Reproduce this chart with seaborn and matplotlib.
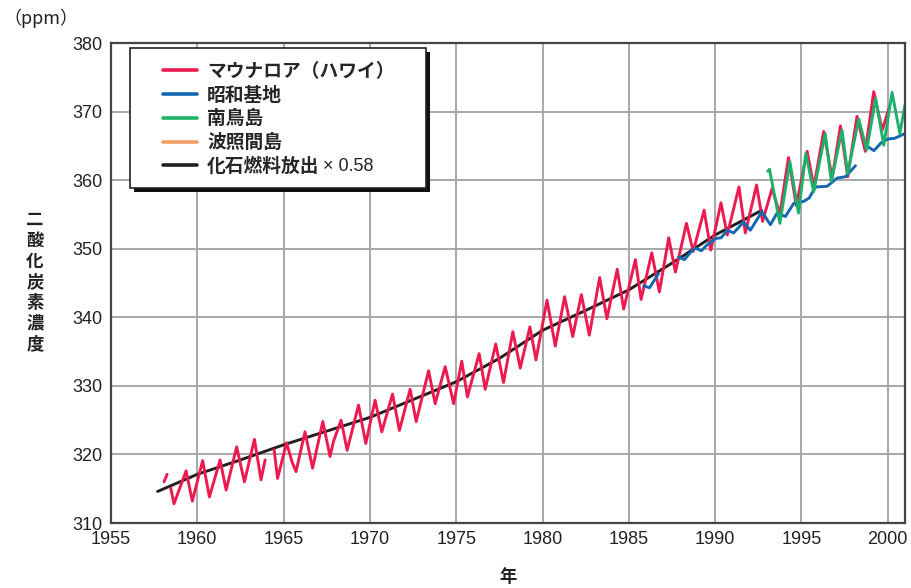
import numpy as np
import pandas as pd
import matplotlib
matplotlib.use("Agg")
import matplotlib.pyplot as plt
from matplotlib.lines import Line2D
from matplotlib.patches import Rectangle
import seaborn as sns

# ---------------- data ----------------
# Mauna Loa (segments separated by None)
ml_year = [1958.07, 1958.25, None,
           1958.46, 1958.65, 1959.35, 1959.71, 1960.31, 1960.70, 1961.32, 1961.67,
           1962.28, 1962.73, 1963.31, 1963.69, 1963.93, None,
           1964.45, 1964.65, 1965.17, 1965.49, 1965.72, 1966.24, 1966.68, 1967.27,
           1967.69, 1967.89, 1968.33, 1968.68, 1969.34, 1969.76, 1970.30, 1970.69,
           1971.31, 1971.71, 1972.33, 1972.68, 1973.40, 1973.78, 1974.36, 1974.85,
           1975.32, 1975.65, 1976.33, 1976.68, 1977.29, 1977.74, 1978.28, 1978.71,
           1979.27, 1979.62, 1980.26, 1980.74, 1981.28, 1981.75, 1982.25, 1982.71,
           1983.31, 1983.73, 1984.33, 1984.70, 1985.38, 1985.71, 1986.33, 1986.77,
           1987.31, 1987.70, 1988.34, 1988.73, 1989.36, 1989.75, 1990.34, 1990.70,
           1991.38, 1991.75, 1992.40, 1992.75, 1993.30, 1993.75, 1994.25, 1994.70,
           1995.33, 1995.72, 1996.29, 1996.78, 1997.26, 1997.68, 1998.22, 1998.70,
           1999.19, 1999.68, 2000.10]
ml_ppm = [316.0, 317.1, None,
          315.1, 312.8, 317.6, 313.2, 319.1, 313.8, 319.2, 314.8,
          321.1, 316.0, 322.2, 316.3, 319.2, None,
          320.7, 316.5, 321.7, 318.9, 317.5, 323.3, 318.0, 324.8,
          319.7, 321.9, 325.0, 320.6, 327.2, 321.6, 327.9, 323.3,
          328.8, 323.5, 329.5, 324.8, 332.2, 327.4, 332.8, 327.4,
          333.6, 328.4, 334.7, 329.5, 336.1, 330.5, 337.9, 332.6,
          338.6, 333.8, 342.5, 335.8, 343.0, 337.2, 343.3, 337.4,
          345.8, 339.8, 347.0, 341.2, 348.4, 342.6, 349.4, 343.7,
          351.6, 346.6, 353.7, 349.6, 355.6, 349.8, 356.7, 352.0,
          359.0, 352.3, 359.3, 354.0, 358.8, 355.0, 363.3, 356.3,
          364.2, 359.0, 367.1, 360.3, 367.9, 360.5, 369.3, 364.2,
          372.9, 367.3, 370.7]

# Syowa Station
sy_year = [1985.86, 1986.20, 1986.50, 1986.73, None,
           1987.89, 1988.22, 1988.55, 1988.85, 1989.20, 1989.55, 1990.04, 1990.35,
           1990.69, 1991.07, 1991.65, 1992.04, 1992.71, 1993.20, 1993.59, 1994.07,
           1994.55, 1995.13, 1995.45, 1995.81, 1996.49, 1997.07, 1997.55, 1998.13, None,
           1998.78, 1999.20, 1999.60, 2000.00, 2000.40, 2001.00]
sy_ppm = [344.6, 344.3, 345.5, 346.4, None,
          348.8, 348.4, 349.4, 350.1, 349.7, 350.6, 351.5, 351.6,
          352.7, 352.3, 353.9, 352.7, 355.4, 353.5, 355.2, 354.7,
          356.6, 356.9, 357.4, 359.0, 359.1, 360.3, 360.5, 362.1, None,
          365.0, 364.3, 365.4, 366.0, 366.1, 366.8]

# Minamitorishima
mt_year = [1993.05, 1993.15, 1993.75, 1994.33, 1994.83, 1995.25, 1995.71, 1996.38,
           1996.73, 1997.35, 1997.68, 1998.32, 1998.78, 1999.30, 1999.77, 2000.25,
           2000.70, 2001.00]
mt_ppm = [361.3, 361.6, 353.7, 362.7, 355.2, 363.9, 358.3, 366.8,
          359.8, 367.3, 361.0, 368.9, 364.4, 371.9, 365.1, 372.8,
          366.8, 371.0]

# Hateruma (legend only, not visible in chart)
ht_year = []
ht_ppm = []

# Fossil fuel emission x 0.58
ff_year = [1957.7, 1960.0, 1962.5, 1965.0, 1967.5, 1970.0, 1972.5, 1975.0,
           1977.5, 1980.0, 1982.5, 1985.0, 1987.5, 1990.0, 1992.7]
ff_ppm = [314.6, 317.1, 319.2, 321.4, 323.4, 325.4, 328.0, 330.6,
          334.0, 338.1, 341.0, 344.0, 347.9, 352.0, 355.6]

labels = ["マウナロア（ハワイ）", "昭和基地", "南鳥島", "波照間島", "化石燃料放出"]
last_suffix = "× 0.58"
colors = ["#ec1a4e", "#1468b3", "#1db069", "#f5a068", "#231f20"]

x_ticks = [1955, 1960, 1965, 1970, 1975, 1980, 1985, 1990, 1995, 2000]
y_ticks = [310, 320, 330, 340, 350, 360, 370, 380]


def to_df(years, vals):
    seg, rows = 0, []
    for t, v in zip(years, vals):
        if t is None:
            seg += 1
            continue
        rows.append((t, v, seg))
    return pd.DataFrame(rows, columns=["year", "ppm", "seg"])


# ---------------- plot ----------------
sns.set_theme(style="white")
plt.rcParams["font.family"] = ["Liberation Sans", "Noto Sans CJK JP", "DejaVu Sans"]
jp = ["Noto Sans CJK JP", "DejaVu Sans"]

W, H = 912, 588
fig = plt.figure(figsize=(W / 100, H / 100), dpi=100)
ax = fig.add_axes([111 / W, 1 - 523 / H, (905 - 111) / W, (523 - 43) / H])

series = [(ff_year, ff_ppm, 4), (ml_year, ml_ppm, 0), (sy_year, sy_ppm, 1),
          (mt_year, mt_ppm, 2)]
for yrs, vals, ci in series:
    df = to_df(yrs, vals)
    sns.lineplot(data=df, x="year", y="ppm", units="seg", estimator=None,
                 sort=False, color=colors[ci], lw=2.1, ax=ax, legend=False)

ax.set_xlim(1955, 2001)
ax.set_ylim(310, 380)
ax.set_xticks(x_ticks)
ax.set_yticks(y_ticks)
ax.tick_params(axis="both", length=0, labelsize=13, labelcolor="#222", pad=6)
ax.grid(True, color="#a8a8a8", lw=1.4)
for s in ax.spines.values():
    s.set_color("#444")
    s.set_linewidth(1.6)
ax.set_xlabel("")
ax.set_ylabel("")

# legend frame with hard black drop shadow (figure pixels)
bx0, by0, bx1, by1 = 130, 48, 426, 188
fig.add_artist(Rectangle(((bx0 + 4) / W, 1 - (by1 + 4) / H), (bx1 - bx0) / W,
                         (by1 - by0) / H, transform=fig.transFigure,
                         facecolor="#111", edgecolor="none", zorder=1))
fig.add_artist(Rectangle((bx0 / W, 1 - by1 / H), (bx1 - bx0) / W,
                         (by1 - by0) / H, transform=fig.transFigure,
                         facecolor="white", edgecolor="#222", lw=1.2, zorder=2))

handles = [Line2D([], [], color=c, lw=2.6) for c in colors]
leg = fig.legend(handles, labels, loc="upper left",
                 bbox_to_anchor=(163 / W, 1 - 62 / H),
                 frameon=False, borderpad=0, labelspacing=0.25,
                 handlelength=1.8, handletextpad=0.55, borderaxespad=0,
                 prop={"family": jp, "weight": "bold", "size": 13.5})
leg.set_zorder(3)

# regular-weight suffix after the last legend label
fig.canvas.draw()
renderer = fig.canvas.get_renderer()
bb = leg.get_texts()[-1].get_window_extent(renderer)
fig.text((bb.x1 + 3) / W, (bb.y0 + bb.y1) / 2 / H, last_suffix,
         family=["Liberation Sans"], fontsize=13, va="center", ha="left",
         color="#222", zorder=4)

fig.text(3 / W, 1 - 18 / H, "（ppm）", family=jp, fontsize=13, va="center",
         ha="left", color="#222")
fig.text(35 / W, 1 - 282 / H, "\n".join("二酸化炭素濃度"), family=jp,
         fontsize=12.5, fontweight="bold", va="center", ha="center",
         linespacing=1.19, color="#222")
fig.text(508 / W, 1 - 577 / H, "年", family=jp, fontsize=12.5,
         fontweight="bold", va="center", ha="center", color="#222")

fig.savefig("out.png", dpi=100)
